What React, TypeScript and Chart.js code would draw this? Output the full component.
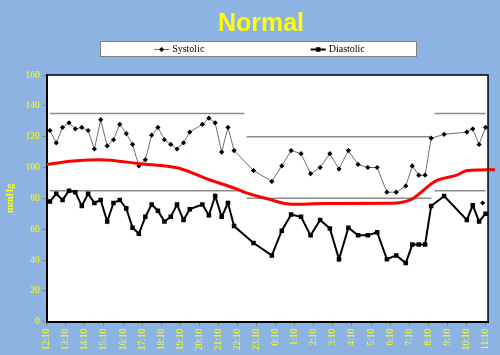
import { useEffect, useRef } from 'react';
import { Chart, registerables } from 'chart.js';

Chart.register(...registerables);

// ---- data (hours after 12:10) ----
const timeLabels = [
  '12:10', '13:10', '14:10', '15:10', '16:10', '17:10', '18:10', '19:10', '20:10', '21:10', '22:10', '23:10',
  '0:10', '1:10', '2:10', '3:10', '4:10', '5:10', '6:10', '7:10', '8:10', '9:10', '10:10', '11:10',
];

const readingHours = [
  0.17, 0.5, 0.83, 1.17, 1.5, 1.84, 2.17, 2.5, 2.83, 3.17, 3.5, 3.83, 4.17, 4.5, 4.83,
  5.17, 5.5, 5.83, 6.17, 6.5, 6.83, 7.17, 7.5, 8.16, 8.5, 8.83, 9.17, 9.5, 9.82, 10.84,
  11.8, 12.32, 12.81, 13.33, 13.83, 14.33, 14.84, 15.32, 15.81, 16.32, 16.83, 17.32,
  17.83, 18.32, 18.82, 19.16, 19.5, 19.83, 20.15, 20.83, 22.02, 22.33, 22.66, 23.0,
];

const systolic = [
  124, 116, 126, 129, 125, 126, 124, 112, 131, 114, 118, 128, 122, 115, 101,
  105, 121, 126, 118, 115, 112, 116, 123, 128, 132, 129, 110, 126, 111, 98,
  91, 101, 111, 109, 96, 100, 109, 99, 111, 102, 100, 100,
  84, 84, 88, 101, 95, 95, 119, 121.5, 123, 125, 115, 126,
];

const diastolic = [
  78, 83, 79, 85, 84, 75, 83, 77, 79, 65, 77, 79, 73.5, 61, 57,
  68, 76, 72, 65, 68, 76, 66, 73, 76, 69, 81.5, 68, 77, 62, 51,
  43, 59, 69.5, 68, 56, 66, 60.5, 40.5, 61, 56, 56, 58,
  40.5, 43, 38, 50, 50, 50, 75, 81.5, 66, 75.5, 65, 70,
];

const extraHours = [22.85];
const extraValues = [77];

const periodStart = [0.17, 10.48, 20.32];
const periodEnd = [10.36, 20.16, 23.0];
const systolicLimit = [135, 120, 135];
const diastolicLimit = [85, 80, 85];

const meanHours = [0, 1.39, 2.78, 4.86, 6.94, 8.33, 10.07, 10.42, 11.63, 12.84, 14.58, 18.05, 19.09, 19.61, 20.14, 20.5, 21.5, 22.04, 23.5];
const meanValues = [102, 104.2, 105.1, 102.5, 99.5, 93, 85.5, 83.7, 79.5, 76.2, 76.6, 76.8, 79.2, 83.8, 89.3, 91.9, 95.1, 98, 98.5];

const yTickValues = [0, 20, 40, 60, 80, 100, 120, 140, 160];

// ---- styling ----
const BG = '#8DB3E2';
const YELLOW = '#FFFF00';
const SERIF = "'Liberation Serif', 'Times New Roman', serif";
const SANS = "'Liberation Sans', Arial, sans-serif";

const limitPoints = (limits: number[]) =>
  periodStart.flatMap((s, i) => [
    { x: s, y: limits[i] },
    { x: periodEnd[i], y: limits[i] },
    { x: periodEnd[i] + 0.01, y: null as any },
  ]);

const toPoints = (xs: number[], ys: number[]) => xs.map((x, i) => ({ x, y: ys[i] }));

const framePlugin = {
  id: 'frame',
  afterLayout(chart: any) {
    // centre the title over the region right of the value-axis labels
    const t = chart.titleBlock;
    if (t) t.left += 31;
  },
  beforeDraw(chart: any) {
    const { ctx, chartArea: a, width, height } = chart;
    ctx.save();
    ctx.fillStyle = BG;
    ctx.fillRect(0, 0, width, height);
    ctx.fillStyle = '#FFFFFF';
    ctx.fillRect(a.left, a.top, a.right - a.left, a.bottom - a.top);
    ctx.restore();
  },
  afterDraw(chart: any) {
    const { ctx, chartArea: a } = chart;
    ctx.save();
    ctx.strokeStyle = '#000000';
    ctx.lineWidth = 1.5;
    ctx.beginPath();
    ctx.moveTo(a.left, a.top);
    ctx.lineTo(a.right, a.top);
    ctx.lineTo(a.right, a.bottom);
    ctx.stroke();
    ctx.restore();
  },
};

const boxLegendPlugin = {
  id: 'boxLegend',
  afterDraw(chart: any) {
    const { ctx, chartArea: a } = chart;
    const title = chart.titleBlock;
    const cx = (title.left + title.right) / 2 - 2.5;
    const boxW = 317;
    const boxH = 16;
    const left = cx - boxW / 2;
    const top = a.top - 34;
    ctx.save();
    ctx.fillStyle = '#FFFFFF';
    ctx.fillRect(left, top, boxW, boxH);
    ctx.strokeStyle = '#808080';
    ctx.lineWidth = 1;
    ctx.strokeRect(left + 0.5, top + 0.5, boxW - 1, boxH - 1);

    const items = chart.data.datasets
      .filter((d: any) => d.legendRank !== undefined)
      .sort((p: any, q: any) => p.legendRank - q.legendRank);
    const colW = boxW / items.length;
    ctx.font = `10px ${SERIF}`;
    ctx.textBaseline = 'middle';
    ctx.textAlign = 'left';
    const cy = top + boxH / 2 + 0.5;
    items.forEach((d: any, i: number) => {
      const tw = ctx.measureText(d.label).width;
      const sw = 15;
      const itemW = sw + 3 + tw;
      const x0 = left + colW * i + (colW - itemW) / 2;
      ctx.strokeStyle = d.borderColor;
      ctx.lineWidth = d.borderWidth;
      ctx.beginPath();
      ctx.moveTo(x0, cy);
      ctx.lineTo(x0 + sw, cy);
      ctx.stroke();
      const mx = x0 + sw / 2;
      ctx.fillStyle = d.pointBackgroundColor;
      ctx.beginPath();
      if (d.pointStyle === 'rectRot') {
        const r = d.pointRadius;
        ctx.moveTo(mx, cy - r);
        ctx.lineTo(mx + r, cy);
        ctx.lineTo(mx, cy + r);
        ctx.lineTo(mx - r, cy);
        ctx.closePath();
      } else {
        const s = d.pointRadius * Math.SQRT1_2;
        ctx.rect(mx - s, cy - s, 2 * s, 2 * s);
      }
      ctx.fill();
      ctx.fillStyle = '#000000';
      ctx.fillText(d.label, x0 + sw + 3, cy);
    });
    ctx.restore();
  },
};

export default function App() {
  const canvasRef = useRef<HTMLCanvasElement | null>(null);

  useEffect(() => {
    const canvas = canvasRef.current;
    if (!canvas) return;
    const chart = new Chart(canvas, {
      type: 'line',
      data: {
        datasets: [
          {
            label: 'Mean',
            data: toPoints(meanHours, meanValues),
            borderColor: '#FF0000',
            borderWidth: 3,
            pointRadius: 0,
            tension: 0.4,
            cubicInterpolationMode: 'monotone',
            clip: false as any,
            order: 0,
          },
          {
            label: 'Diastolic',
            legendRank: 1,
            data: toPoints(readingHours, diastolic),
            borderColor: '#000000',
            borderWidth: 2,
            pointStyle: 'rect',
            pointRadius: 3.2,
            pointBorderWidth: 0,
            pointBackgroundColor: '#000000',
            tension: 0,
            order: 1,
          } as any,
          {
            label: 'Systolic',
            legendRank: 0,
            data: toPoints(readingHours, systolic),
            borderColor: '#707070',
            borderWidth: 1,
            pointStyle: 'rectRot',
            pointRadius: 2.6,
            pointBorderWidth: 0,
            pointBackgroundColor: '#000000',
            tension: 0,
            order: 2,
          } as any,
          {
            label: 'Extra',
            data: toPoints(extraHours, extraValues),
            showLine: false,
            pointStyle: 'rectRot',
            pointRadius: 2.6,
            pointBorderWidth: 0,
            pointBackgroundColor: '#000000',
            order: 1,
          },
          {
            label: 'Systolic limit',
            data: limitPoints(systolicLimit),
            borderColor: '#8C8C8C',
            borderWidth: 1.5,
            pointRadius: 0,
            spanGaps: false,
            order: 3,
          },
          {
            label: 'Diastolic limit',
            data: limitPoints(diastolicLimit),
            borderColor: '#8C8C8C',
            borderWidth: 1.5,
            pointRadius: 0,
            spanGaps: false,
            order: 3,
          },
        ] as any,
      },
      options: {
        animation: false,
        responsive: false,
        devicePixelRatio: 1,
        events: [],
        layout: { padding: { left: 0, right: 9, top: 0, bottom: 0 } },
        plugins: {
          legend: { display: false },
          tooltip: { enabled: false },
          title: {
            display: true,
            text: 'Normal',
            color: YELLOW,
            font: { family: SANS, size: 25, weight: 'bold' },
            padding: { top: 9, bottom: 36 },
          },
        },
        scales: {
          x: {
            type: 'linear',
            min: 0,
            max: 23.13,
            afterBuildTicks: (scale: any) => {
              scale.ticks = timeLabels.map((_, i) => ({ value: i }));
            },
            afterFit: (scale: any) => {
              scale.height = 33.3;
            },
            ticks: {
              autoSkip: false,
              minRotation: 90,
              maxRotation: 90,
              padding: 3,
              color: YELLOW,
              font: { family: SERIF, size: 9.5 },
              callback: (v: any) => timeLabels[Math.round(Number(v))] ?? '',
            },
            grid: { drawOnChartArea: false, drawTicks: true, tickLength: 4, color: '#808080' },
            border: { display: true, color: '#000000', width: 2 },
          },
          y: {
            min: 0,
            max: 160,
            afterBuildTicks: (scale: any) => {
              scale.ticks = yTickValues.map((v) => ({ value: v }));
            },
            afterFit: (scale: any) => {
              scale.width = 46.7;
            },
            ticks: {
              padding: 3,
              color: YELLOW,
              font: { family: SERIF, size: 9.5 },
            },
            grid: { drawOnChartArea: false, drawTicks: true, tickLength: 4, color: '#808080' },
            border: { display: true, color: '#000000', width: 2 },
            title: {
              display: true,
              text: 'mmHg',
              color: YELLOW,
              font: { family: SERIF, size: 10, weight: 'bold' },
              padding: { top: 4, bottom: 0 },
            },
          },
        },
      } as any,
      plugins: [framePlugin, boxLegendPlugin],
    });
    return () => chart.destroy();
  }, []);

  return (
    <div style={{ position: 'fixed', left: 0, top: 0, width: 500, height: 355, background: BG }}>
      <canvas ref={canvasRef} width={500} height={355} style={{ width: 500, height: 355, display: 'block' }} />
    </div>
  );
}
